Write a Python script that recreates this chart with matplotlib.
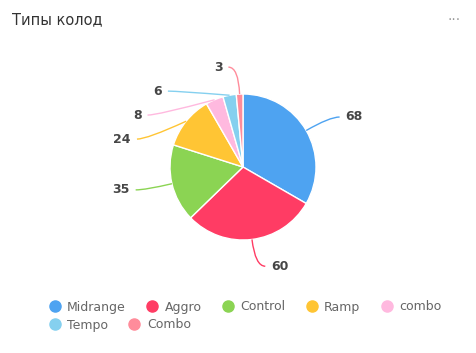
import numpy as np
import matplotlib
matplotlib.use("Agg")
import matplotlib.pyplot as plt
from matplotlib.lines import Line2D
from matplotlib.path import Path
from matplotlib.patches import PathPatch

categories = ["Midrange", "Aggro", "Control", "Ramp", "combo", "Tempo", "Combo"]
values = [68, 60, 35, 24, 8, 6, 3]
colors = ["#4ea3f1", "#ff3c64", "#8bd453", "#ffc534", "#ffb9df", "#85d0ef", "#ff8c9b"]

W, H = 476, 353
fig = plt.figure(figsize=(W / 100, H / 100), dpi=100)
ax = fig.add_axes([0, 0, 1, 1])

cx, cy, r = 243, 186, 73
ax.pie(values, colors=colors, startangle=90, counterclock=False, center=(cx, cy),
       radius=r, frame=True, wedgeprops=dict(edgecolor="white", linewidth=1))
ax.set_xlim(0, W)
ax.set_ylim(0, H)
ax.axis("off")

# label layout: leader lines bend at radius R, then short horizontal run
R, L2, gap = 100, 10, 24
tot = sum(values)
cum = np.cumsum([0] + values)
mids = np.deg2rad(90 - (cum[:-1] + cum[1:]) / 2 / tot * 360)
labels = []
for i, th in enumerate(mids):
    side = 1 if np.cos(th) >= 0 else -1
    labels.append(dict(i=i, th=th, side=side, y=min(cy + R * np.sin(th), cy + R)))
for side in (1, -1):
    grp = sorted([l for l in labels if l["side"] == side], key=lambda l: -l["y"])
    for a, b in zip(grp, grp[1:]):
        if b["y"] > a["y"] - gap:
            b["y"] = a["y"] - gap

for l in labels:
    th, side, y = l["th"], l["side"], l["y"]
    dy = y - cy
    bx = cx + side * np.sqrt(max(R ** 2 - dy ** 2, 0))
    ex, ey = cx + r * np.cos(th), cy + r * np.sin(th)
    tx = bx + side * L2
    path = Path([(ex, ey), (bx, y), (tx, y)], [Path.MOVETO, Path.CURVE3, Path.CURVE3])
    ax.add_patch(PathPatch(path, fill=False, ec=colors[l["i"]], lw=1))
    ax.text(tx + side * 6, y, str(values[l["i"]]), ha="left" if side > 0 else "right",
            va="center", fontsize=9, fontweight="bold", color="#464646")

fig.text(12 / W, 1 - 20 / H, "Типы колод", fontsize=10.5, color="#333333", va="center")
fig.text(454 / W, 1 - 20 / H, "···", fontsize=10, color="#999999", va="center", ha="center")

def handles(idx):
    return [Line2D([], [], ls="", marker="o", ms=8, mfc=colors[i], mec=colors[i]) for i in idx]

kw = dict(frameon=False, fontsize=9, labelcolor="#666666", handletextpad=0.4,
          columnspacing=1.5, handlelength=1.2, borderpad=0, borderaxespad=0)
fig.legend(handles(range(5)), categories[:5], loc="center left", ncol=5,
           bbox_to_anchor=(47 / W, 1 - 307 / H), **kw)
fig.legend(handles(range(5, 7)), categories[5:], loc="center left", ncol=2,
           bbox_to_anchor=(47 / W, 1 - 325 / H), **kw)

fig.savefig("out.png", dpi=100)
